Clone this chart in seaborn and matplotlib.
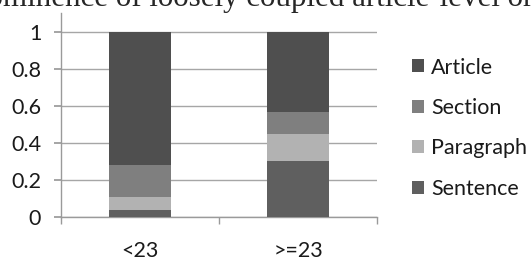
import matplotlib
matplotlib.use("Agg")
import matplotlib.pyplot as plt
import seaborn as sns
import pandas as pd
from matplotlib.patches import Patch

# values (share of each level per group)
groups = ["<23", ">=23"]
sentence = [0.04, 0.30]
paragraph = [0.068, 0.146]
section = [0.17, 0.12]
article = [0.722, 0.434]
y_ticks = [0, 0.2, 0.4, 0.6, 0.8, 1]
y_labels = ["0", "0.2", "0.4", "0.6", "0.8", "1"]

colors = {
    "Article": "#4f4f4f",
    "Section": "#7f7f7f",
    "Paragraph": "#b2b2b2",
    "Sentence": "#5f5f5f",
}

sns.set_theme(style="white")
plt.rcParams["font.family"] = ["Lato", "DejaVu Sans"]

df = pd.DataFrame({
    "group": groups,
    "Sentence": sentence,
    "Paragraph": paragraph,
    "Section": section,
    "Article": article,
})
stack = ["Sentence", "Paragraph", "Section", "Article"]
cum = df[stack].cumsum(axis=1)

fig = plt.figure(figsize=(5.31, 2.61), dpi=100)
ax = fig.add_axes([0.1143, 0.1686, 0.596, 0.7814])

# draw tallest (cumulative) first so lower segments sit on top
for lvl in reversed(stack):
    sns.barplot(x=df["group"], y=cum[lvl], order=groups, color=colors[lvl],
                width=0.39, saturation=1, linewidth=0, ax=ax, zorder=3)

ax.set_xlim(-0.5, 1.5)
ax.set_ylim(0, 1.1)
ax.set_yticks(y_ticks)
ax.set_yticklabels(y_labels)
ax.set_xlabel("")
ax.set_ylabel("")
ax.yaxis.grid(True, color="#a6a6a6", linewidth=1, zorder=0)
ax.set_axisbelow(True)

for s in ["top", "right"]:
    ax.spines[s].set_visible(False)
for s in ["left", "bottom"]:
    ax.spines[s].set_color("#9a9a9a")
    ax.spines[s].set_linewidth(1)

ax.tick_params(axis="y", length=5, color="#9a9a9a", labelsize=15.5, pad=9,
               labelcolor="#1a1a1a", left=True)
ax.tick_params(axis="x", which="major", length=0, labelsize=15.5, pad=17.5,
               labelcolor="#1a1a1a")
ax.set_xticks([-0.5, 0.5, 1.5], minor=True)
ax.tick_params(axis="x", which="minor", length=5, color="#9a9a9a", bottom=True)

names = ["Article", "Section", "Paragraph", "Sentence"]
handles = [Patch(facecolor=colors[l], edgecolor="none") for l in names]
fig.legend(handles, names,
           loc="upper left", bbox_to_anchor=(412 / 531, 1 - 57.5 / 261),
           bbox_transform=fig.transFigure, frameon=False, fontsize=15.5,
           borderpad=0, borderaxespad=0, labelspacing=0.95,
           handlelength=0.56, handleheight=0.56, handletextpad=0.33,
           labelcolor="#1a1a1a")

# title, cut off by the top edge in the reference
fig.text(-40 / 531, 1 - 6.3 / 261, "Prominence of loosely coupled article-level organization",
         family="Liberation Serif", fontsize=22.3, va="baseline", ha="left")

fig.savefig("out.png", dpi=100)
